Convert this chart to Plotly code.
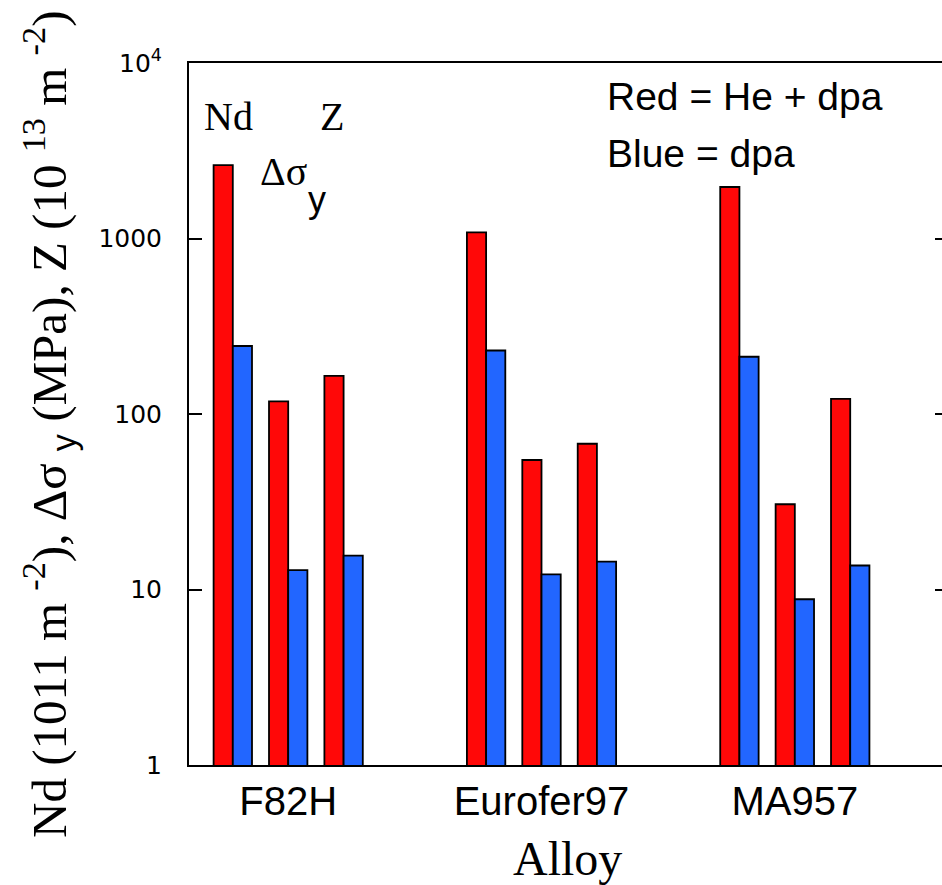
import plotly.graph_objects as go

# ---------------- data ----------------
alloys = ["F82H", "Eurofer97", "MA957"]
quantities = ["Nd", "Δσy", "Z"]

# Red = He + dpa  (per alloy: Nd, Δσy, Z)
red_nd = [2620, 1085, 1965]
red_dsy = [118, 54.7, 30.6]
red_z = [165, 67.7, 122]

# Blue = dpa
blue_nd = [244, 230, 212]
blue_dsy = [12.9, 12.2, 8.8]
blue_z = [15.6, 14.4, 13.7]

ytick_vals = [1, 10, 100, 1000, 10000]
ytick_text = ["1", "10", "100", "1000", "10<sup>4</sup>"]

# ---------------- layout constants ----------------
PAIR_STEP = 0.2187
BAR_W = 0.0758
RED = "#FF0808"
BLUE = "#2266FF"

red_by_q = [red_nd, red_dsy, red_z]
blue_by_q = [blue_nd, blue_dsy, blue_z]

xs, red_vals, blue_vals = [], [], []
for gi in range(len(alloys)):
    for qi in range(len(quantities)):
        xs.append(gi + (qi - 1) * PAIR_STEP)
        red_vals.append(red_by_q[qi][gi])
        blue_vals.append(blue_by_q[qi][gi])

fig = go.Figure()
fig.add_trace(go.Bar(x=xs, y=red_vals, width=BAR_W, offset=-BAR_W,
                     marker=dict(color=RED, line=dict(color="black", width=1.8)),
                     name="He + dpa", showlegend=False))
fig.add_trace(go.Bar(x=xs, y=blue_vals, width=BAR_W, offset=0,
                     marker=dict(color=BLUE, line=dict(color="black", width=1.8)),
                     name="dpa", showlegend=False))
# invisible trace to carry the right-hand tick axis
fig.add_trace(go.Scatter(x=[0], y=[1], yaxis="y2", mode="markers",
                         marker=dict(opacity=0), showlegend=False, hoverinfo="skip"))

W, H = 942, 885
L, R, T, B = 189, 0, 63, 120
pw, ph = W - L - R, H - T - B

def px(x):
    return (x - L) / pw

def py(y):
    return (H - B - y) / ph

fig.update_layout(
    width=W, height=H,
    margin=dict(l=L, r=R, t=T, b=B, pad=0),
    paper_bgcolor="white", plot_bgcolor="white",
    barmode="overlay",
    xaxis=dict(range=[-0.3916, 2.581], tickvals=list(range(len(alloys))), ticktext=alloys,
               showgrid=False, zeroline=False, showline=True, linecolor="black", linewidth=2,
               mirror=True, ticks="",
               tickfont=dict(family="Liberation Sans", size=40, color="black")),
    yaxis=dict(type="log", range=[0, 4], tickvals=ytick_vals, ticktext=ytick_text,
               showgrid=False, zeroline=False, showline=True, linecolor="black", linewidth=2,
               ticks="inside", ticklen=13, tickwidth=2, tickcolor="black",
               ticklabelstandoff=20,
               tickfont=dict(family="DejaVu Sans", size=25, color="black")),
    yaxis2=dict(type="log", range=[0, 4], overlaying="y", side="right",
                tickvals=[10, 100, 1000], showticklabels=False, showgrid=False,
                zeroline=False, showline=False, ticks="inside", ticklen=7,
                tickwidth=2, tickcolor="black"),
    annotations=[
        dict(text="Nd (1011 m <sup>-2</sup>), Δσ <sub><span style='font-family:Liberation Sans'>y</span></sub> (MPa), Z (10 <sup>13</sup> m <sup>-2</sup>)",
             xref="paper", yref="paper", x=px(48), y=py(424), textangle=-90,
             showarrow=False, xanchor="center", yanchor="middle",
             font=dict(family="Liberation Serif", size=49, color="black")),
        dict(text="Alloy", xref="paper", yref="paper", x=px(567), y=py(858),
             showarrow=False, xanchor="center", yanchor="middle",
             font=dict(family="Liberation Serif", size=48, color="black")),
        dict(text="Nd", xref="paper", yref="paper", x=px(228), y=py(116),
             showarrow=False, xanchor="center", yanchor="middle",
             font=dict(family="Liberation Serif", size=40, color="black")),
        dict(text="Z", xref="paper", yref="paper", x=px(332), y=py(116),
             showarrow=False, xanchor="center", yanchor="middle",
             font=dict(family="Liberation Serif", size=40, color="black")),
        dict(text="Δσ", xref="paper", yref="paper", x=px(283), y=py(171),
             showarrow=False, xanchor="center", yanchor="middle",
             font=dict(family="Liberation Serif", size=40, color="black")),
        dict(text="y", xref="paper", yref="paper", x=px(317), y=py(199),
             showarrow=False, xanchor="center", yanchor="middle",
             font=dict(family="Liberation Sans", size=36, color="black")),
        dict(text="Red = He + dpa", xref="paper", yref="paper", x=px(605), y=py(97),
             showarrow=False, xanchor="left", yanchor="middle",
             font=dict(family="Liberation Sans", size=39, color="black")),
        dict(text="Blue = dpa", xref="paper", yref="paper", x=px(605), y=py(153),
             showarrow=False, xanchor="left", yanchor="middle",
             font=dict(family="Liberation Sans", size=39, color="black")),
    ],
)

fig.write_html("out.html")
